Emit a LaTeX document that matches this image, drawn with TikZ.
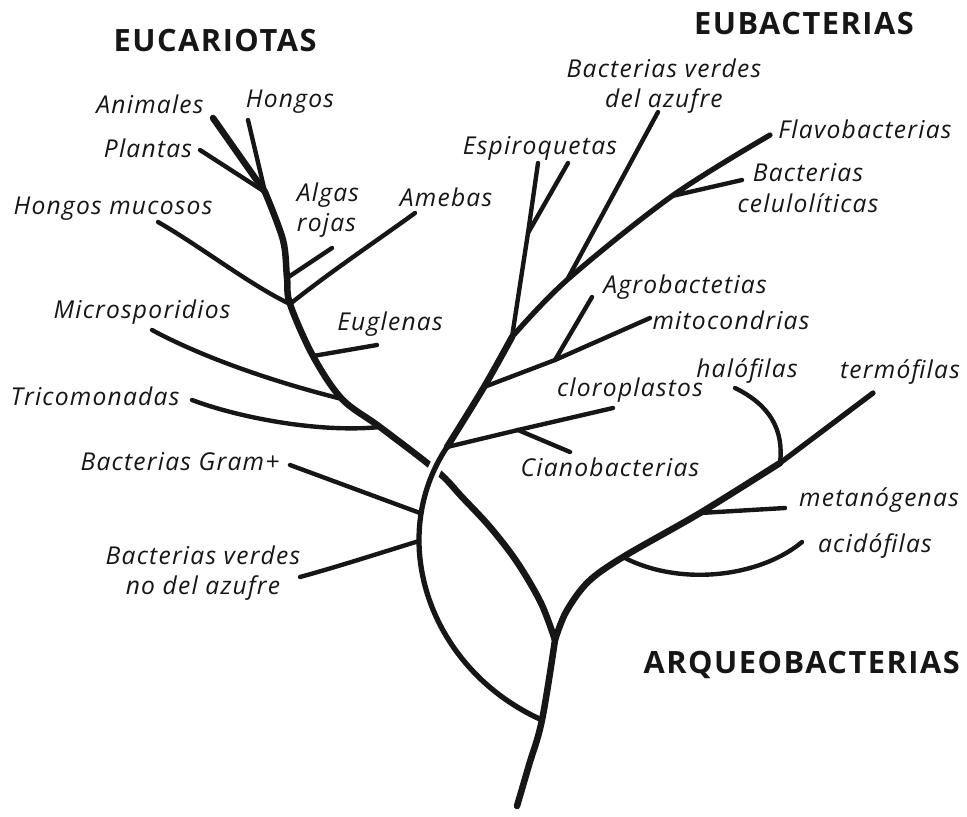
\documentclass[tikz,border=0pt]{standalone}
\usepackage{fontspec}
\setmainfont{Open Sans}
\newfontfamily\taxonfont[LetterSpace=5]{Open Sans}
\newfontfamily\cladefont[LetterSpace=5]{Open Sans}
\usetikzlibrary{calc}
\definecolor{cink}{HTML}{161616}
\tikzset{
  every picture/.style={line cap=round, line join=round},
  stem/.style={draw=cink, line width=3.7pt},
  limb/.style={draw=cink, line width=3pt},
  twig/.style={draw=cink, line width=2.5pt},
  taxon/.style={font=\taxonfont\itshape\fontsize{14}{17.5}\selectfont, text=cink, align=center, inner sep=1pt},
  clade/.style={font=\cladefont\bfseries\fontsize{17.5}{20}\selectfont, text=cink, inner sep=1pt},
}

\begin{document}
\begin{tikzpicture}[x=0.02cm, y=-0.02cm,
  halo/.style={preaction={draw=white, line width=7.5pt}}]
  \useasboundingbox (0,0) rectangle (967,816);
  % junctions
  \coordinate (root)   at (517,806);
  \coordinate (jbig)   at (542,720);
  \coordinate (jsplit) at (555,640);
  \coordinate (jtri) at (380,427);
  \coordinate (jmic) at (342,399);
  \coordinate (jeug) at (313,356);
  \coordinate (jmuc) at (290,304);
  \coordinate (jroj) at (287,278);
  \coordinate (jtop) at (265,192);
  \coordinate (jgram) at (420,513);
  \coordinate (jnoaz) at (419,541);
  \coordinate (jclo) at (447,447);
  \coordinate (jcia) at (518,430);
  \coordinate (jmit) at (484,387);
  \coordinate (jagr) at (555,360);
  \coordinate (jesp) at (512,337);
  \coordinate (jesq) at (528,233);
  \coordinate (jver) at (567,280);
  \coordinate (jfla) at (672,196);
  \coordinate (jaci) at (623,557);
  \coordinate (jmet) at (700,513);
  \coordinate (jhal) at (780,463);
  % tips
  \coordinate (tani) at (213,118);
  \coordinate (thon) at (248,120);
  \coordinate (tpla) at (200,150);
  \coordinate (tmuc) at (158,222);
  \coordinate (tame) at (415,213);
  \coordinate (troj) at (332,248);
  \coordinate (teug) at (377,345);
  \coordinate (tmic) at (152,330);
  \coordinate (ttri) at (192,400);
  \coordinate (tgram) at (290,465);
  \coordinate (tnoaz) at (300,577);
  \coordinate (tclo) at (613,408);
  \coordinate (tcia) at (570,452);
  \coordinate (tmit) at (650,318);
  \coordinate (tagr) at (592,297);
  \coordinate (tesa) at (538,163);
  \coordinate (tesb) at (568,163);
  \coordinate (tver) at (658,112);
  \coordinate (tcel) at (742,180);
  \coordinate (tfla) at (770,135);
  \coordinate (tter) at (873,393);
  \coordinate (taci) at (802,542);
  \coordinate (tmet) at (785,508);
  \coordinate (thal) at (735,388);

  % eucariotas stem, crossed by the eubacteria arc
  \draw[stem] plot[smooth, tension=0.55] coordinates {(jsplit) (541,603) (517,562) (490,527) (462,497) (437,471) (jtri) (jmic) (jeug) (jmuc) (jroj) (283,240) (jtop)};
  \draw[limb, halo] (jbig) .. controls (430,670) and (385,540) .. (jclo);
  % trunk and other stems
  \draw[stem] plot[smooth, tension=0.6] coordinates {(root) (529,765) (jbig) (jsplit)};
  \draw[stem] plot[smooth, tension=0.55] coordinates {(jclo) (jmit) (jesp)};
  \draw[limb] plot[smooth, tension=0.55] coordinates {(jesp) (jver) (jfla) (tfla)};
  \draw[stem] plot[smooth, tension=0.55] coordinates {(jsplit) (566,612) (588,582) (jaci) (jmet) (jhal)};
  \draw[limb] (jhal) -- (tter);
  % branches
  \draw[stem] (jtop) -- (tani);
  \foreach \a/\b in {jtop/thon, jtop/tpla, jroj/troj, jeug/teug, jgram/tgram,
                     jclo/jcia, jcia/tclo, jcia/tcia, jmit/jagr, jagr/tmit, jagr/tagr,
                     jesp/jesq, jesq/tesa, jesq/tesb, jver/tver, jfla/tcel, jmet/tmet}
    \draw[twig] (\a) -- (\b);
  \draw[twig] (jmuc) .. controls (250,285) and (200,246) .. (tmuc);
  \draw[twig] (jmuc) .. controls (330,272) and (375,242) .. (tame);
  \draw[twig] (jmic) .. controls (270,381) and (200,356) .. (tmic);
  \draw[twig] (jtri) .. controls (320,433) and (240,418) .. (ttri);
  \draw[twig] (jnoaz) .. controls (380,553) and (340,566) .. (tnoaz);
  \draw[twig] (jaci) .. controls (680,587) and (760,577) .. (taci);
  \draw[twig] (jhal) .. controls (784,430) and (770,405) .. (thal);

  % labels
  \node[clade] (eucariotas) at (215,40) {EUCARIOTAS};
  \node[clade] (eubacterias) at (804,24) {EUBACTERIAS};
  \node[clade, anchor=east] (arqueo) at (962,665) {ARQUEOBACTERIAS};
  \node[taxon] (animales) at (150,104) {Animales};
  \node[taxon] (hongos) at (290,102) {Hongos};
  \node[taxon] (plantas) at (148,148) {Plantas};
  \node[taxon, align=left] (algas) at (328,210) {Algas\\rojas};
  \node[taxon] (amebas) at (446,197) {Amebas};
  \node[taxon] (mucosos) at (113,209) {Hongos mucosos};
  \node[taxon] (micro) at (142,312) {Microsporidios};
  \node[taxon] (euglenas) at (390,324) {Euglenas};
  \node[taxon] (trico) at (95,396) {Tricomonadas};
  \node[taxon] (gram) at (180,462) {Bacterias Gram+};
  \node[taxon] (noazufre) at (203,573) {Bacterias verdes\\no del azufre};
  \node[taxon] (azufre) at (664,86) {Bacterias verdes\\del azufre};
  \node[taxon] (espiro) at (540,148) {Espiroquetas};
  \node[taxon] (flavo) at (865,129) {Flavobacterias};
  \node[taxon] (celulo) at (808,188) {Bacterias\\celulolíticas};
  \node[taxon] (agro) at (685,287) {Agrobactetias};
  \node[taxon] (mito) at (731,320) {mitocondrias};
  \node[taxon] (halof) at (747,371) {halófilas};
  \node[taxon] (termo) at (900,372) {termófilas};
  \node[taxon] (cloro) at (630,390) {cloroplastos};
  \node[taxon] (ciano) at (610,467) {Cianobacterias};
  \node[taxon] (metano) at (879,500) {metanógenas};
  \node[taxon] (acido) at (875,546) {acidófilas};
\end{tikzpicture}
\end{document}
